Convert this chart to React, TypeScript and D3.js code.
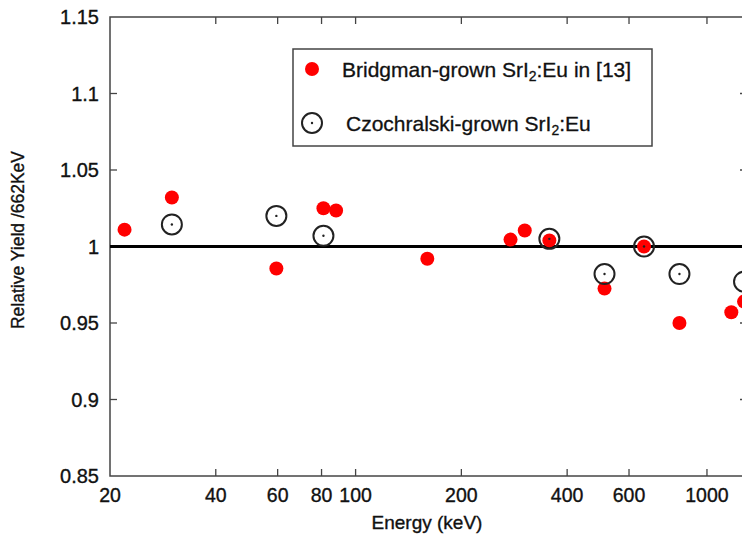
import React, { useEffect, useRef } from 'react';
import * as d3 from 'd3';

// Bridgman-grown SrI2:Eu in [13]
const bridgmanEnergy = [22, 30, 59.5, 81, 88, 160, 276, 303, 356, 511, 662, 835, 1173, 1275];
const bridgmanYield = [1.011, 1.032, 0.9856, 1.025, 1.0235, 0.992, 1.0045, 1.0105, 1.004, 0.9725, 1.0, 0.95, 0.957, 0.964];

// Czochralski-grown SrI2:Eu
const czEnergy = [30, 59.5, 81, 356, 511, 662, 835, 1275];
const czYield = [1.0144, 1.02, 1.007, 1.005, 0.982, 1.0, 0.982, 0.977];

const xTicks = [20, 40, 60, 80, 100, 200, 400, 600, 1000];
const yTicks = [0.85, 0.9, 0.95, 1, 1.05, 1.1, 1.15];

const App: React.FC = () => {
  const ref = useRef<SVGSVGElement>(null);

  useEffect(() => {
    const svg = d3.select(ref.current);
    svg.selectAll('*').remove();

    const left = 110, top = 17, bottom = 476, right = 747;
    const font = 'Liberation Sans, Arial, sans-serif';
    const ink = '#111';

    const x = d3.scaleLog().domain([20, 1300]).range([left, right]);
    const y = d3.scaleLinear().domain([0.85, 1.15]).range([bottom, top]);

    const frameColor = '#444';

    // a little stroke so the text looks as heavy as the scanned original
    const heavy = (sel: any, w = 0.35) => sel.attr('stroke', ink).attr('stroke-width', w).attr('fill', ink);

    // frame
    svg.append('rect')
      .attr('x', left).attr('y', top)
      .attr('width', right - left).attr('height', bottom - top)
      .attr('fill', 'none').attr('stroke', frameColor).attr('stroke-width', 1.5);

    // ticks, inward, on all sides
    const tickLen = 7;
    const g = svg.append('g').attr('stroke', frameColor).attr('stroke-width', 1.3);
    xTicks.filter(t => t !== 20).forEach(t => {
      g.append('line').attr('x1', x(t)).attr('x2', x(t)).attr('y1', bottom).attr('y2', bottom - tickLen);
      g.append('line').attr('x1', x(t)).attr('x2', x(t)).attr('y1', top).attr('y2', top + tickLen);
    });
    yTicks.filter(t => t !== 0.85 && t !== 1.15).forEach(t => {
      g.append('line').attr('x1', left).attr('x2', left + tickLen).attr('y1', y(t)).attr('y2', y(t));
      g.append('line').attr('x1', right).attr('x2', right - tickLen).attr('y1', y(t)).attr('y2', y(t));
    });

    // tick labels
    svg.append('g').selectAll('text').data(xTicks).join('text')
      .attr('x', d => x(d)).attr('y', 502)
      .attr('text-anchor', 'middle')
      .attr('font-family', font).attr('font-size', 19.5)
      .call(heavy)
      .text(d => String(d));

    svg.append('g').selectAll('text').data(yTicks).join('text')
      .attr('x', 99).attr('y', d => y(d) + 7)
      .attr('text-anchor', 'end')
      .attr('font-family', font).attr('font-size', 20)
      .call(heavy)
      .text(d => String(d));

    // axis titles
    svg.append('text')
      .attr('x', 427).attr('y', 529)
      .attr('text-anchor', 'middle')
      .attr('font-family', font).attr('font-size', 19)
      .call(heavy)
      .text('Energy (keV)');

    svg.append('text')
      .attr('transform', 'translate(24,240) rotate(-90)')
      .attr('text-anchor', 'middle')
      .attr('font-family', font).attr('font-size', 17.5)
      .call(heavy)
      .text('Relative Yield /662KeV');

    // reference line at 1
    svg.append('line')
      .attr('x1', left).attr('x2', right)
      .attr('y1', y(1)).attr('y2', y(1))
      .attr('stroke', '#000').attr('stroke-width', 3);

    // Bridgman points
    svg.append('g').selectAll('circle').data(d3.range(bridgmanEnergy.length)).join('circle')
      .attr('cx', i => x(bridgmanEnergy[i]))
      .attr('cy', i => y(bridgmanYield[i]))
      .attr('r', 7)
      .attr('fill', '#ff0000');

    // Czochralski points
    const cz = svg.append('g').selectAll('g').data(d3.range(czEnergy.length)).join('g')
      .attr('transform', i => `translate(${x(czEnergy[i])},${y(czYield[i])})`);
    cz.append('circle').attr('r', 10).attr('fill', 'none').attr('stroke', '#222').attr('stroke-width', 2);
    cz.append('circle').attr('r', 1.2).attr('fill', '#222');

    // legend
    const lg = svg.append('g');
    lg.append('rect')
      .attr('x', 293).attr('y', 49).attr('width', 359).attr('height', 97)
      .attr('fill', '#fff').attr('stroke', frameColor).attr('stroke-width', 1.5);
    lg.append('circle').attr('cx', 312).attr('cy', 69).attr('r', 7).attr('fill', '#ff0000');
    lg.append('circle').attr('cx', 312).attr('cy', 123).attr('r', 10)
      .attr('fill', 'none').attr('stroke', '#222').attr('stroke-width', 2);
    lg.append('circle').attr('cx', 312).attr('cy', 123).attr('r', 1.2).attr('fill', '#222');

    const t1 = lg.append('text')
      .attr('x', 342).attr('y', 77)
      .attr('font-family', font).attr('font-size', 21)
      .call(heavy, 0.3);
    t1.append('tspan').text('Bridgman-grown SrI');
    t1.append('tspan').attr('font-size', 14).attr('dy', 4).text('2');
    t1.append('tspan').attr('dy', -4).text(':Eu in [13]');

    const t2 = lg.append('text')
      .attr('x', 346).attr('y', 131)
      .attr('font-family', font).attr('font-size', 21)
      .call(heavy, 0.3);
    t2.append('tspan').text('Czochralski-grown SrI');
    t2.append('tspan').attr('font-size', 14).attr('dy', 4).text('2');
    t2.append('tspan').attr('dy', -4).text(':Eu');
  }, []);

  return (
    <svg
      ref={ref}
      width={742}
      height={536}
      style={{ position: 'absolute', left: 0, top: 0, background: '#fff', overflow: 'hidden' }}
    />
  );
};

export default App;
